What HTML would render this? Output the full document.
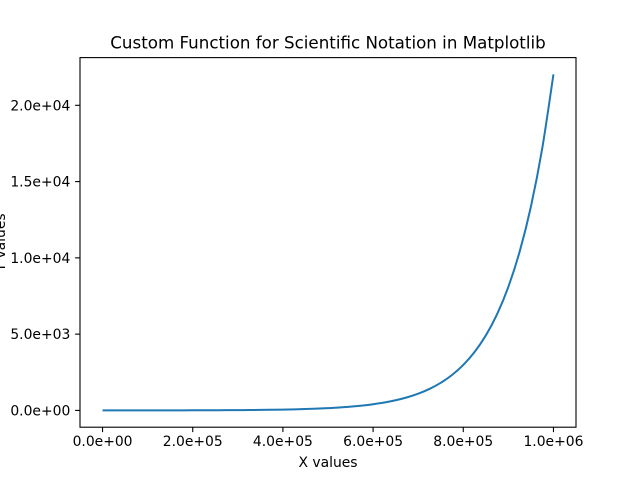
<!DOCTYPE html>
<html><head><meta charset="utf-8"><style>
body{margin:0;background:#fff}
svg{display:block;font-family:"DejaVu Sans","Liberation Sans",sans-serif}
</style></head><body>
<svg id="chart" width="640" height="480" viewBox="0 0 640 480">
<rect width="640" height="480" fill="#fff"/>
<g id="plot"></g>
</svg>
<script>
const xValues=[0,25000,50000,75000,100000,125000,150000,175000,200000,225000,250000,275000,300000,325000,350000,375000,400000,425000,450000,475000,500000,525000,550000,575000,600000,625000,650000,675000,700000,725000,750000,775000,800000,825000,850000,875000,900000,925000,950000,975000,1000000];
const yValues=[1,1.28,1.65,2.12,2.72,3.49,4.48,5.75,7.39,9.49,12.18,15.64,20.09,25.8,33.1,42.5,54.6,70.1,90.0,115.6,148.4,190.6,244.7,314.2,403.4,518,665.1,854.1,1096.6,1408.1,1808,2321.6,2981,3827.6,4914.8,6310.7,8103.1,10404.6,13359.7,17154.2,22026.5];
const xTicks=[0,200000,400000,600000,800000,1000000];
const xTickLabels=["0.0e+00","2.0e+05","4.0e+05","6.0e+05","8.0e+05","1.0e+06"];
const yTicks=[0,5000,10000,15000,20000];
const yTickLabels=["0.0e+00","5.0e+03","1.0e+04","1.5e+04","2.0e+04"];

const L=80,R=576,T=57.6,B=427.2;
const xmin=-50000,xmax=1050000;
const ymax0=Math.max(...yValues),ymin0=Math.min(...yValues);
const pad=(ymax0-ymin0)*0.05;
const ymin=ymin0-pad,ymax=ymax0+pad;
const sx=v=>L+(v-xmin)/(xmax-xmin)*(R-L);
const sy=v=>B-(v-ymin)/(ymax-ymin)*(B-T);
const NS="http://www.w3.org/2000/svg";
const g=document.getElementById('plot');
function mk(tag,attrs,parent){const e=document.createElementNS(NS,tag);for(const k in attrs)e.setAttribute(k,attrs[k]);(parent||g).appendChild(e);return e;}

// smooth line (Catmull-Rom)
const P=xValues.map((x,i)=>[sx(x),sy(yValues[i])]);
let d='M'+P[0][0].toFixed(2)+','+P[0][1].toFixed(2);
for(let i=0;i<P.length-1;i++){
  const p0=P[Math.max(i-1,0)],p1=P[i],p2=P[i+1],p3=P[Math.min(i+2,P.length-1)];
  const c1=[p1[0]+(p2[0]-p0[0])/6,p1[1]+(p2[1]-p0[1])/6];
  const c2=[p2[0]-(p3[0]-p1[0])/6,p2[1]-(p3[1]-p1[1])/6];
  d+=' C'+c1[0].toFixed(2)+','+c1[1].toFixed(2)+' '+c2[0].toFixed(2)+','+c2[1].toFixed(2)+' '+p2[0].toFixed(2)+','+p2[1].toFixed(2);
}
const line=mk('path',{d:d,fill:'none',stroke:'#1f77b4','stroke-width':2,'stroke-linejoin':'round'});



const frame=mk('rect',{x:L,y:T,width:R-L,height:B-T,fill:'none',stroke:'#000','stroke-width':1.1});



xTicks.forEach((t,i)=>{
  const x=sx(t);
  const tk=mk('line',{x1:x,x2:x,y1:B,y2:B+4.9,stroke:'#000','stroke-width':1.1});
  
  
  const lb=mk('text',{x:x,y:B+19,'font-size':13.9,'text-anchor':'middle'});
  lb.textContent=xTickLabels[i];
  
  
});
yTicks.forEach((t,i)=>{
  const y=sy(t);
  const tk=mk('line',{x1:L-4.9,x2:L,y1:y,y2:y,stroke:'#000','stroke-width':1.1});
  
  
  const lb=mk('text',{x:L-9.7,y:y+5,'font-size':13.9,'text-anchor':'end'});
  lb.textContent=yTickLabels[i];
  
  
});
const title=mk('text',{x:(L+R)/2,y:T-9,'font-size':16.7,'text-anchor':'middle'});
title.textContent='Custom Function for Scientific Notation in Matplotlib';


const xl=mk('text',{x:(L+R)/2,y:467,'font-size':13.9,'text-anchor':'middle'});
xl.textContent='X values';


const yl=mk('text',{x:0,y:0,'font-size':13.9,'text-anchor':'middle',transform:'translate(5,'+((T+B)/2)+') rotate(-90)'});
yl.textContent='Y values';


</script>
</body></html>
